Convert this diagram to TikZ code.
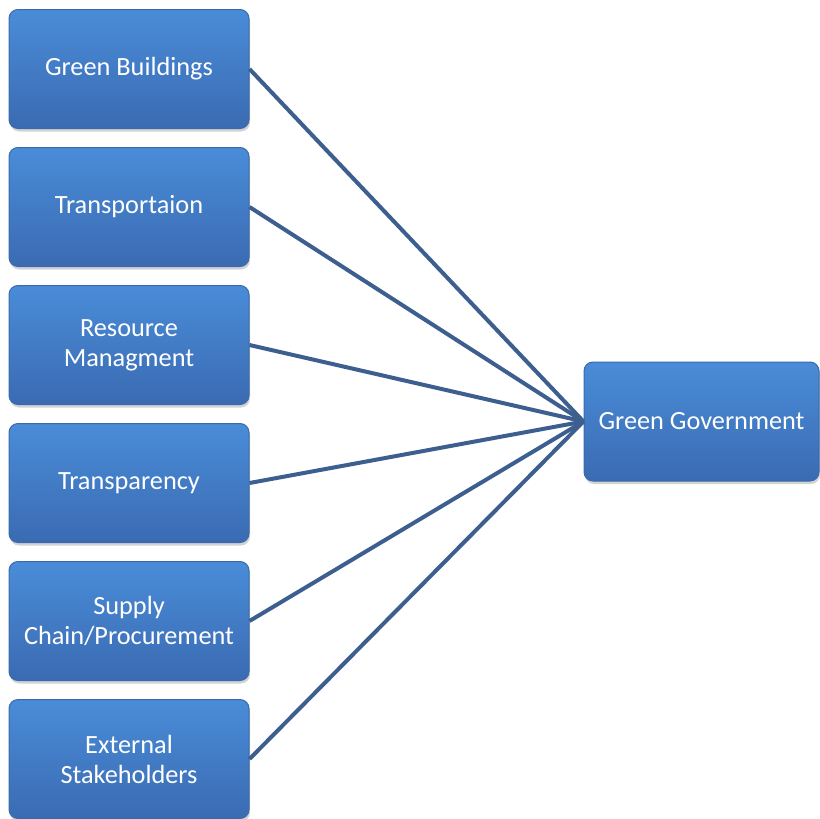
\documentclass[tikz,border=0pt]{standalone}
\usepackage{fontspec}
\setmainfont{Carlito}
\usepackage{tikz}
\usetikzlibrary{shadows}
\definecolor{boxtop}{HTML}{4A8CD8}
\definecolor{boxbot}{HTML}{3A6BB2}
\definecolor{boxedge}{HTML}{3A6AAE}
\definecolor{linkcol}{HTML}{3D5F90}
\tikzset{topic/.style={rectangle, rounded corners=9pt, minimum width=240pt,
		minimum height=119pt, top color=boxtop, bottom color=boxbot,
		draw=boxedge, line width=1pt, text=white, align=center,
		font=\fontsize{26.3}{30}\selectfont,
		drop shadow={shadow xshift=1pt, shadow yshift=-3pt, opacity=0.35}},
	link/.style={draw=linkcol, line width=4pt}}
\begin{document}
\begin{tikzpicture}[x=1pt,y=-1pt]
		\useasboundingbox (0,0) rectangle (819,819);
		\node[topic] (bld) at (129,69) {Green Buildings};
		\node[topic] (trn) at (129,207) {Transportaion};
		\node[topic] (res) at (129,345) {Resource\\Managment};
		\node[topic] (tsp) at (129,483) {Transparency};
		\node[topic] (sup) at (129,621) {Supply\\Chain/Procurement};
		\node[topic] (ext) at (129,759) {External\\Stakeholders};
		\node[topic, minimum width=235pt] (gov) at (701.5,421.5) {Green Government};
		\foreach \n in {bld,trn,res,tsp,sup,ext}
		\draw[link] (\n.east) -- (gov.west);
		\end{tikzpicture}
\end{document}
